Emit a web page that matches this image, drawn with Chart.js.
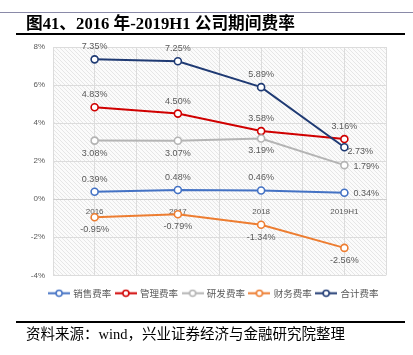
<!DOCTYPE html>
<html>
<head>
<meta charset="utf-8">
<script src="https://cdn.jsdelivr.net/npm/chart.js@4.4.1/dist/chart.umd.min.js"></script>
<style>
  html, body { margin: 0; padding: 0; background: #fff; }
  #wrap { position: relative; width: 413px; height: 355px; overflow: hidden; }
  #c { position: absolute; left: 0; top: 0; }
  .topline { position: absolute; left: 0; top: 12px; width: 413px; height: 1px; background: #8a8aa8; }
  .title { position: absolute; left: 26px; top: 14px; font: bold 16.7px "Liberation Serif", "Noto Sans CJK SC", serif; color: #000; white-space: nowrap; line-height: 20px; }
  .uline { position: absolute; left: 16px; top: 33px; width: 389px; height: 2px; background: #000; }
  .bline { position: absolute; left: 16px; top: 321px; width: 389px; height: 2px; background: #000; }
  .source { position: absolute; left: 26px; top: 325px; font: 14.5px "Liberation Serif", "Noto Sans CJK SC", serif; color: #000; white-space: nowrap; line-height: 18px; }
</style>
</head>
<body>
<div id="wrap">
  <canvas id="c" width="413" height="355"></canvas>
  <div class="topline"></div>
  <div class="title">图41、2016 年-2019H1 公司期间费率</div>
  <div class="uline"></div>
  <div class="bline"></div>
  <div class="source">资料来源：wind，兴业证券经济与金融研究院整理</div>
</div>
<script>
// ---- data ----
const categories = ['2016', '2017', '2018', '2019H1'];
const seriesNames = ['销售费率', '管理费率', '研发费率', '财务费率', '合计费率'];
const salesRate = [0.39, 0.48, 0.46, 0.34];
const mgmtRate = [4.83, 4.50, 3.58, 3.16];
const rdRate = [3.08, 3.07, 3.19, 1.79];
const finRate = [-0.95, -0.79, -1.34, -2.56];
const totalRate = [7.35, 7.25, 5.89, 2.73];
const yTicks = [-4, -2, 0, 2, 4, 6, 8];

// ---- styles ----
const colors = ['#4472C4', '#D00000', '#B4B4B4', '#ED7D31', '#1F3A73'];
// label placement per series per point: 'a' above, 'b' below, 'r' right, 'rb' right-below
const labelPlace = [
  ['a', 'a', 'a', 'r'],
  ['a', 'a', 'a', 'a'],
  ['b', 'b', 'b', 'r'],
  ['b', 'b', 'b', 'b'],
  ['a', 'a', 'a', 'rb']
];
const seriesValues = [salesRate, mgmtRate, rdRate, finRate, totalRate];

function legendImg(color) {
  const cv = document.createElement('canvas');
  cv.width = 22; cv.height = 9;
  const g = cv.getContext('2d');
  g.strokeStyle = color; g.lineWidth = 2;
  g.beginPath(); g.moveTo(0, 4.5); g.lineTo(22, 4.5); g.stroke();
  g.fillStyle = '#fff'; g.lineWidth = 1.5;
  g.beginPath(); g.arc(11, 4.5, 3, 0, Math.PI * 2); g.fill(); g.stroke();
  return cv;
}

function hatchPattern(ctx) {
  const p = document.createElement('canvas');
  p.width = 4; p.height = 4;
  const g = p.getContext('2d');
  g.fillStyle = '#fbfbfb'; g.fillRect(0, 0, 4, 4);
  g.fillStyle = '#e6e6e6';
  g.fillRect(0, 0, 1, 1); g.fillRect(1, 1, 1, 1); g.fillRect(2, 2, 1, 1); g.fillRect(3, 3, 1, 1);
  return ctx.createPattern(p, 'repeat');
}

const datasets = seriesNames.map((name, i) => ({
  label: name,
  data: seriesValues[i].map((v, j) => ({ x: j, y: v })),
  borderColor: colors[i],
  backgroundColor: '#fff',
  borderWidth: 2,
  pointRadius: 3.5,
  pointBorderWidth: 1.6,
  pointBackgroundColor: '#fff',
  pointBorderColor: colors[i],
  tension: 0,
  order: 5 - i
}));

const bgPlugin = {
  id: 'bg',
  beforeDraw(chart) {
    const { ctx, chartArea: a } = chart;
    ctx.save();
    ctx.fillStyle = hatchPattern(ctx);
    ctx.fillRect(a.left, a.top, a.right - a.left, a.bottom - a.top);
    ctx.restore();
  }
};

// shift the legend box so its row sits where the reference legend sits
const legendShift = {
  id: 'legendShift',
  afterLayout(chart) {
    if (chart.legend) { chart.legend.left = 42; }
  }
};

const labelPlugin = {
  id: 'vlabels',
  afterDatasetsDraw(chart) {
    const ctx = chart.ctx;
    ctx.save();
    ctx.font = '9px "Liberation Sans", "DejaVu Sans", sans-serif';
    ctx.fillStyle = '#595959';
    ctx.textBaseline = 'middle';
    chart.data.datasets.forEach((ds, i) => {
      const meta = chart.getDatasetMeta(i);
      meta.data.forEach((pt, j) => {
        const txt = seriesValues[i][j].toFixed(2) + '%';
        const pl = labelPlace[i][j];
        let x = pt.x, y = pt.y;
        if (pl === 'a') { ctx.textAlign = 'center'; y -= 12.5; }
        else if (pl === 'b') { ctx.textAlign = 'center'; y += 12.5; }
        else if (pl === 'r') { ctx.textAlign = 'left'; x += 9; y += 1; }
        else if (pl === 'rb') { ctx.textAlign = 'left'; x += 3; y += 4; }
        ctx.fillText(txt, x, y);
      });
    });
    ctx.restore();
  }
};

new Chart(document.getElementById('c'), {
  type: 'line',
  data: { datasets },
  options: {
    responsive: false,
    animation: false,
    events: [],
    layout: { padding: { top: 47, right: 27, left: 0, bottom: 47 } },
    scales: {
      x: {
        type: 'linear',
        min: -0.5,
        max: 3.5,
        position: { y: 0 },
        afterBuildTicks(scale) {
          const t = [];
          for (let v = -0.5; v <= 3.5; v += 0.5) t.push({ value: v });
          scale.ticks = t;
        },
        ticks: {
          autoSkip: false,
          maxRotation: 0,
          padding: 8,
          font: { size: 8, family: '"Liberation Sans", "DejaVu Sans", sans-serif' },
          color: '#595959',
          callback: (v) => Number.isInteger(v) ? categories[v] : ''
        },
        grid: { color: '#dcdcdc', lineWidth: 1, drawTicks: false },
        border: { display: true, color: '#cfcfcf', width: 1 }
      },
      y: {
        min: -4,
        max: 8,
        afterBuildTicks(scale) { scale.ticks = yTicks.map(v => ({ value: v })); },
        afterFit(scale) { scale.width = 53; },
        ticks: {
          padding: 8,
          font: { size: 8, family: '"Liberation Sans", "DejaVu Sans", sans-serif' },
          color: '#595959',
          callback: (v) => v + '%'
        },
        grid: { color: '#dcdcdc', lineWidth: 1, drawTicks: false },
        border: { display: false }
      }
    },
    plugins: {
      legend: {
        position: 'bottom',
        title: { display: true, text: ' ', font: { size: 1 }, padding: { top: 0, bottom: 7 }, color: 'rgba(0,0,0,0)' },
        labels: {
          usePointStyle: true,
          pointStyleWidth: 19,
          padding: 5,
          color: '#595959',
          font: { size: 9.5, family: '"Noto Sans CJK SC", sans-serif' },
          generateLabels: (chart) => chart.data.datasets.map((ds, i) => ({
            text: ds.label,
            pointStyle: legendImg(colors[i]),
            fillStyle: colors[i],
            strokeStyle: colors[i],
            lineWidth: 0,
            hidden: false,
            datasetIndex: i,
            fontColor: '#595959'
          }))
        }
      },
      tooltip: { enabled: false }
    }
  },
  plugins: [bgPlugin, legendShift, labelPlugin]
});
</script>
</body>
</html>
